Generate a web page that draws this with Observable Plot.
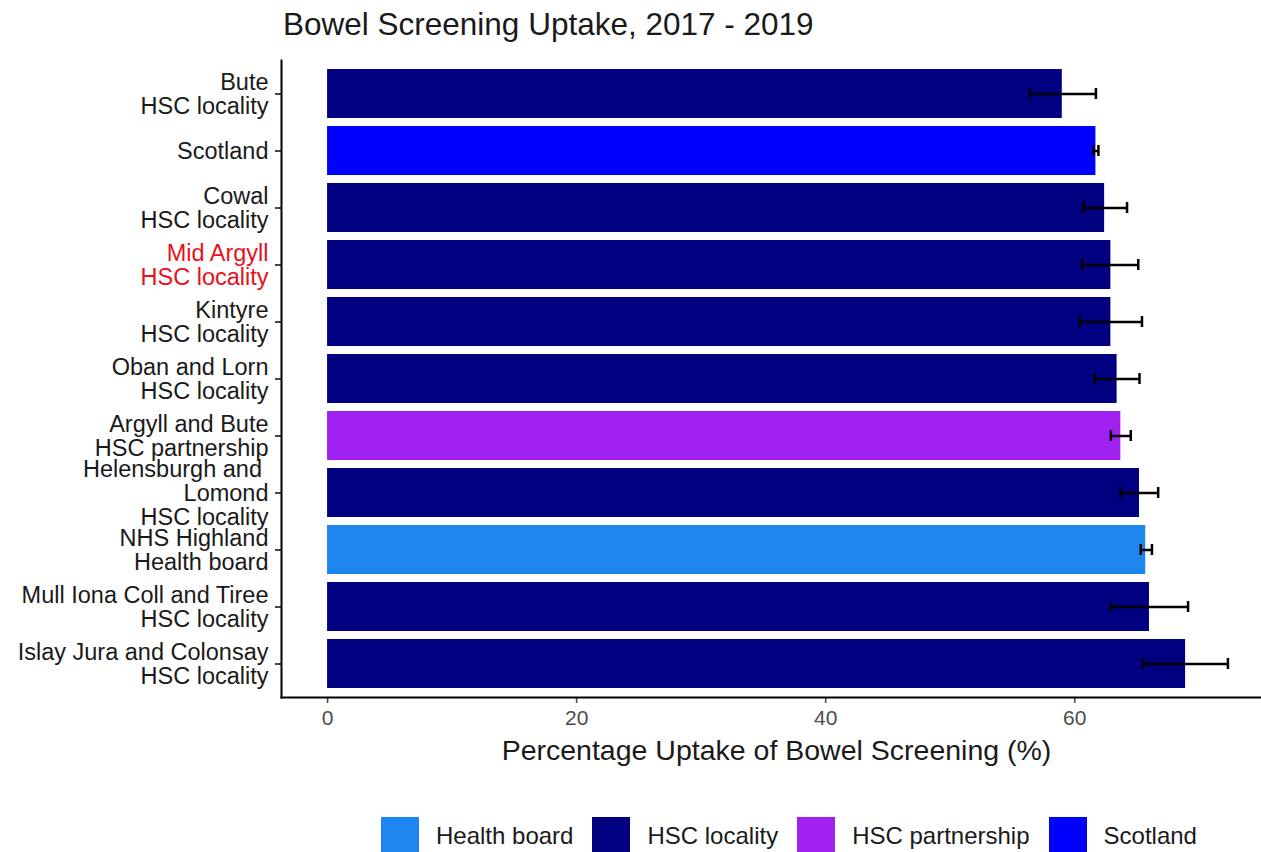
<!DOCTYPE html>
<html>
<head>
<meta charset="utf-8">
<script src="https://cdn.jsdelivr.net/npm/d3@7"></script>
<script src="https://cdn.jsdelivr.net/npm/@observablehq/plot@0.6"></script>
<style>
  html, body { margin: 0; padding: 0; background: #fff; overflow: hidden; }
  body { position: relative; width: 1261px; height: 852px; font-family: "Liberation Sans", Arial, sans-serif; }
  #title { position: absolute; left: 283px; top: 9px; font-size: 31.5px; line-height: 31.5px; color: #1a1a1a; white-space: nowrap; }
  #chart { position: absolute; left: 0; top: 0; width: 1271px; }
  #chart svg { max-width: none !important; }
  #legend { position: absolute; left: 381px; top: 817px; display: flex; align-items: center; font-size: 24px; color: #1a1a1a; white-space: nowrap; }
  .item { display: flex; align-items: center; margin-right: 19px; }
  .sw { width: 38px; height: 38px; margin-right: 17px; }
</style>
</head>
<body>
<div id="title"></div>
<div id="chart"></div>
<div id="legend"></div>
<script>
// ---- data ----
const titleText = "Bowel Screening Uptake, 2017 - 2019";
const xTitle = "Percentage Uptake of Bowel Screening (%)";
const labels = [
  "Bute\nHSC locality",
  "Scotland",
  "Cowal\nHSC locality",
  "Mid Argyll\nHSC locality",
  "Kintyre\nHSC locality",
  "Oban and Lorn\nHSC locality",
  "Argyll and Bute\nHSC partnership",
  "Helensburgh and\u00a0\nLomond\nHSC locality",
  "NHS Highland\nHealth board",
  "Mull Iona Coll and Tiree\nHSC locality",
  "Islay Jura and Colonsay\nHSC locality"
];
const types = ["HSC locality", "Scotland", "HSC locality", "HSC locality", "HSC locality", "HSC locality",
  "HSC partnership", "HSC locality", "Health board", "HSC locality", "HSC locality"];
const uptake = [59.0, 61.7, 62.4, 62.9, 62.9, 63.4, 63.7, 65.2, 65.7, 66.0, 68.9];
const lower  = [56.4, 61.5, 60.7, 60.6, 60.4, 61.6, 62.9, 63.7, 65.3, 62.9, 65.5];
const upper  = [61.7, 61.9, 64.2, 65.1, 65.4, 65.2, 64.5, 66.7, 66.2, 69.1, 72.3];
const highlighted = "Mid Argyll\nHSC locality";
const legendTypes = ["Health board", "HSC locality", "HSC partnership", "Scotland"];
const typeColors = ["#1c86ee", "#000080", "#a020f0", "#0000ff"];
const xTicks = [0, 20, 40, 60];
const xDomain = [-3.7, 75.8];

const data = labels.map((label, i) => ({label, type: types[i], uptake: uptake[i], lower: lower[i], upper: upper[i]}));

document.getElementById("title").textContent = titleText;

const font = "Liberation Sans, Arial, sans-serif";
const plot = Plot.plot({
  width: 1271,
  height: 790,
  marginTop: 60,
  marginBottom: 93,
  marginLeft: 281,
  marginRight: 0,
  style: {fontFamily: font, background: "transparent", overflow: "visible", maxWidth: "none"},
  x: {domain: xDomain, label: null},
  y: {type: "band", domain: labels, paddingInner: 0.14, paddingOuter: 0.08, label: null},
  color: {domain: legendTypes, range: typeColors},
  marks: [
    Plot.barX(data, {x: "uptake", y: "label", fill: "type"}),
    Plot.ruleY(data, {y: "label", x1: "lower", x2: "upper", stroke: "black", strokeWidth: 2.5}),
    Plot.tickX(data, {x: "lower", y: "label", insetTop: 19, insetBottom: 19, stroke: "black", strokeWidth: 2.5}),
    Plot.tickX(data, {x: "upper", y: "label", insetTop: 19, insetBottom: 19, stroke: "black", strokeWidth: 2.5}),
    Plot.axisY(labels, {tickSize: 6, tickPadding: 7, fontSize: 23.5, lineHeight: 1.02, color: "#1a1a1a",
      strokeWidth: 1.6, tickFormat: d => d === highlighted ? "" : d, label: null}),
    Plot.axisY([highlighted], {tickSize: 0, tickPadding: 13, fontSize: 23.5, lineHeight: 1.02, color: "#e8101a", label: null}),
    Plot.axisX({ticks: xTicks, tickSize: 6, tickPadding: 7, fontSize: 21, color: "#4d4d4d", strokeWidth: 1.6, label: null}),
    Plot.frame({anchor: "left", stroke: "black", strokeWidth: 2}),
    Plot.frame({anchor: "bottom", stroke: "black", strokeWidth: 2}),
    Plot.text([xTitle], {text: d => d, frameAnchor: "bottom", dy: 62, fontSize: 28.5, fill: "#1a1a1a"})
  ]
});
document.getElementById("chart").appendChild(plot);

const legend = document.getElementById("legend");
legendTypes.forEach((t, i) => {
  const item = document.createElement("div");
  item.className = "item";
  const sw = document.createElement("div");
  sw.className = "sw";
  sw.style.background = typeColors[i];
  const lab = document.createElement("span");
  lab.textContent = t;
  item.appendChild(sw);
  item.appendChild(lab);
  legend.appendChild(item);
});
</script>
</body>
</html>
